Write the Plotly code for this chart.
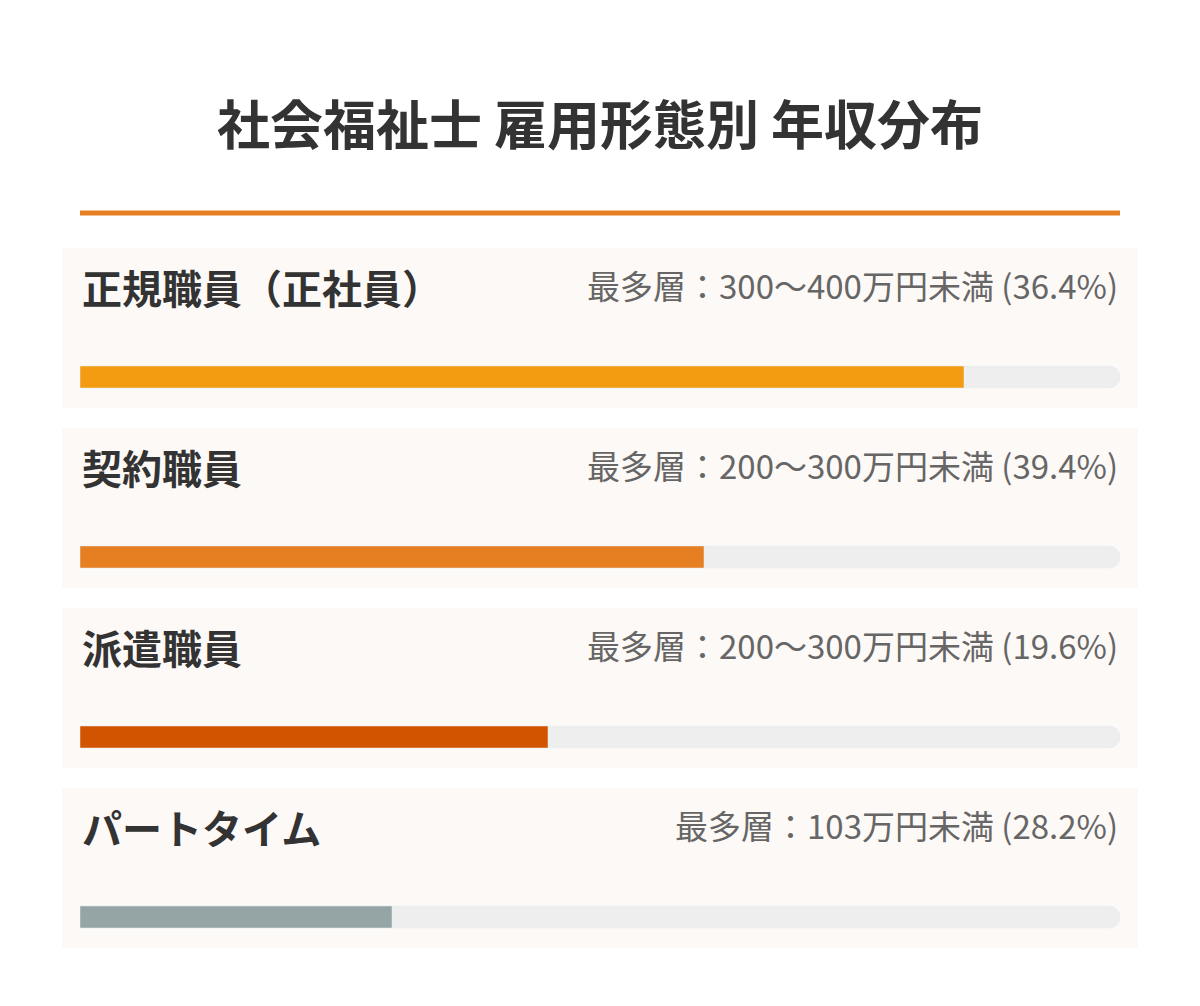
import plotly.graph_objects as go

categories = ["正規職員（正社員）", "契約職員", "派遣職員", "パートタイム"]
values = [85, 60, 45, 30]
peak_labels = ["最多層：300〜400万円未満 (36.4%)", "最多層：200〜300万円未満 (39.4%)",
               "最多層：200〜300万円未満 (19.6%)", "最多層：103万円未満 (28.2%)"]
colors = ["#f39c12", "#e67e22", "#d35400", "#95a5a6"]
title = "社会福祉士 雇用形態別 年収分布"

W, H = 1200, 1006
OFF = 8
FONT = "Noto Sans CJK JP"
idx = list(range(len(categories)))
bw = 22 / 180
c0 = 377 - OFF

fig = go.Figure()
fig.add_trace(go.Bar(x=[100] * len(idx), y=idx, orientation="h", width=bw,
                     marker=dict(color="#eeeeee", cornerradius=11), hoverinfo="skip"))
fig.add_trace(go.Bar(x=values, y=idx, orientation="h", width=bw,
                     marker=dict(color=colors, cornerradius=11), hoverinfo="skip"))

shapes = []
annotations = []
for i, (c, p) in enumerate(zip(categories, peak_labels)):
    shapes.append(dict(type="rect", xref="paper", yref="y", x0=(62 - OFF) / W, x1=(1138 - OFF) / W,
                       y0=i - 0.717, y1=i + 0.172, fillcolor="#fdf9f6", line=dict(width=0),
                       layer="below"))
    annotations.append(dict(x=0, y=i, xref="x", yref="y", text=f"<b>{c}</b>", showarrow=False,
                            xanchor="left", yanchor="middle", yshift=90,
                            font=dict(family=FONT, size=40, color="#333333")))
    annotations.append(dict(x=100, y=i, xref="x", yref="y", text=p, showarrow=False,
                            xanchor="right", yanchor="middle", yshift=92,
                            font=dict(family=FONT, size=33, color="#666666")))
annotations.append(dict(x=(600 - OFF) / W, y=1 - (122 - OFF) / H, xref="paper", yref="paper",
                        text=f"<b>{title}</b>", showarrow=False, xanchor="center", yanchor="middle",
                        font=dict(family=FONT, size=53, color="#333333")))
shapes.append(dict(type="line", xref="paper", yref="paper", x0=(80 - OFF) / W, x1=(1120 - OFF) / W,
                   y0=1 - (213 - OFF) / H, y1=1 - (213 - OFF) / H, line=dict(color="#e67e22", width=5)))

fig.update_layout(
    width=W, height=H, margin=dict(l=0, r=0, t=0, b=0),
    paper_bgcolor="white", plot_bgcolor="rgba(0,0,0,0)",
    barmode="overlay", showlegend=False,
    xaxis=dict(domain=[(80 - OFF) / W, (1120 - OFF) / W], range=[0, 100], visible=False, fixedrange=True),
    yaxis=dict(domain=[0, 1], range=[(H - c0) / 180, -c0 / 180], visible=False, fixedrange=True),
    shapes=shapes, annotations=annotations,
)
fig.write_html("out.html")
